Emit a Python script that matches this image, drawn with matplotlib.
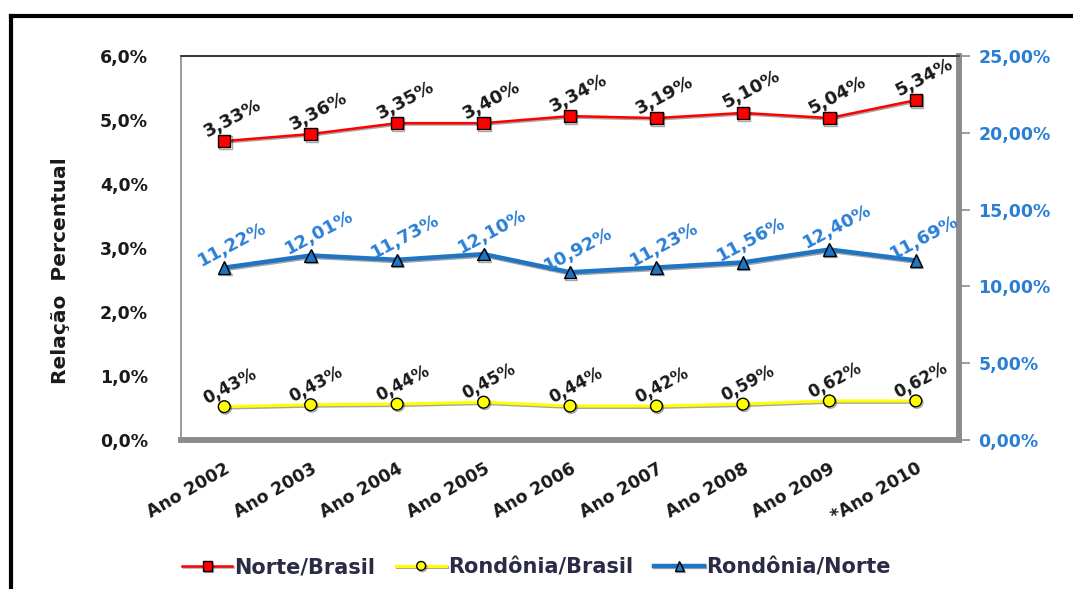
import matplotlib
matplotlib.use("Agg")
import matplotlib.pyplot as plt
import matplotlib.patheffects as pe
from matplotlib.lines import Line2D

# --- dados ---
anos = ["Ano 2002", "Ano 2003", "Ano 2004", "Ano 2005", "Ano 2006",
        "Ano 2007", "Ano 2008", "Ano 2009", "*Ano 2010"]

# posição no eixo esquerdo (como desenhado) e rótulos exibidos
norte_brasil = [4.67, 4.78, 4.95, 4.95, 5.06, 5.03, 5.11, 5.03, 5.31]
norte_brasil_rot = ["3,33%", "3,36%", "3,35%", "3,40%", "3,34%",
                    "3,19%", "5,10%", "5,04%", "5,34%"]

rondonia_brasil = [0.52, 0.55, 0.56, 0.59, 0.53, 0.53, 0.56, 0.61, 0.61]
rondonia_brasil_rot = ["0,43%", "0,43%", "0,44%", "0,45%", "0,44%",
                       "0,42%", "0,59%", "0,62%", "0,62%"]

# eixo direito
rondonia_norte = [11.22, 12.01, 11.73, 12.10, 10.92, 11.23, 11.56, 12.40, 11.69]

left_ticks = [0, 1, 2, 3, 4, 5, 6]
right_ticks = [0, 5, 10, 15, 20, 25]

RED = "#ff0000"
YEL = "#ffff00"
BLUE = "#1f74c4"
LBL_BLUE = "#2a7fd4"
TXT = "#1a1a1a"

plt.rcParams['font.family'] = ['DejaVu Sans']

fig = plt.figure(figsize=(10.73, 5.89), dpi=100)
ax = fig.add_axes([0.1687, 0.253, 0.7251, 0.652])
ax2 = ax.twinx()

x = list(range(len(anos)))
shadow = [pe.SimpleLineShadow(offset=(0.8, -1.0), alpha=0.35, shadow_color="black"), pe.Normal()]

l1, = ax.plot(x, norte_brasil, color=RED, lw=1.8, marker="s", ms=9,
              mfc=RED, mec="black", mew=1, path_effects=shadow, zorder=3)
l2, = ax.plot(x, rondonia_brasil, color=YEL, lw=2.2, marker="o", ms=8.5,
              mfc=YEL, mec="black", mew=1, path_effects=shadow, zorder=3)
l3, = ax2.plot(x, rondonia_norte, color=BLUE, lw=3.2, marker="^", ms=9,
               mfc=BLUE, mec="black", mew=1, path_effects=shadow, zorder=3)

lbl_kw = dict(textcoords="offset points", ha="center", va="bottom",
              rotation=28, rotation_mode="anchor", fontweight="bold")
for xi, yi, t in zip(x, norte_brasil, norte_brasil_rot):
    ax.annotate(t, (xi, yi), xytext=(9, 11), fontsize=13, color=TXT, **lbl_kw)
for xi, yi, t in zip(x, rondonia_brasil, rondonia_brasil_rot):
    ax.annotate(t, (xi, yi), xytext=(7, 9), fontsize=12, color=TXT, **lbl_kw)
for xi, yi in zip(x, rondonia_norte):
    ax2.annotate(f"{yi:.2f}%".replace(".", ","), (xi, yi), xytext=(9, 11),
                 fontsize=13, color=LBL_BLUE, **lbl_kw)

ax.set_xlim(-0.5, len(anos) - 0.5)
ax.set_ylim(0, 6)
ax2.set_ylim(0, 25)

ax.set_yticks(left_ticks)
ax.set_yticklabels([f"{v:.1f}%".replace(".", ",") for v in left_ticks],
                   fontsize=12.5, fontweight="bold", color=TXT)
ax.tick_params(axis="y", length=0, pad=24)

ax2.set_yticks(right_ticks)
ax2.set_yticklabels([f"{v:.2f}%".replace(".", ",") for v in right_ticks],
                    fontsize=12.5, fontweight="bold", color=LBL_BLUE)
ax2.tick_params(axis="y", length=8, width=1.2, color="#8c8c8c", pad=6)

ax.set_xticks(x)
ax.set_xticklabels(anos, rotation=30, ha="right", va="top",
                   rotation_mode="anchor", fontsize=12.5, fontweight="bold",
                   color=TXT)
ax.tick_params(axis="x", length=0, pad=14)

ax.set_ylabel("Relação  Percentual", fontsize=14.5, fontweight="bold",
              color=TXT)
ax.yaxis.set_label_coords(-0.143, 0.44)

# moldura da área de plotagem
for a in (ax, ax2):
    a.spines["top"].set_color("#333333")
    a.spines["top"].set_linewidth(1.2)
    a.spines["left"].set_color("#9a9a9a")
    a.spines["left"].set_linewidth(1.2)
    a.spines["right"].set_color("#8c8c8c")
    a.spines["right"].set_linewidth(4)
    a.spines["bottom"].set_color("#8c8c8c")
    a.spines["bottom"].set_linewidth(4)

# legenda
handles = [l1, l2, l3]
leg = fig.legend(handles, ["Norte/Brasil", "Rondônia/Brasil", "Rondônia/Norte"],
                 loc="center", bbox_to_anchor=(0.5, 0.037), ncol=3,
                 frameon=False, handlelength=2.4, handletextpad=0.1,
                 columnspacing=1.0, markerscale=0.75,
                 prop={"size": 15, "weight": "bold"})
for t in leg.get_texts():
    t.set_color("#2b2b45")

# borda externa (recortada à direita e embaixo)
fig.add_artist(Line2D([11 / 1073, 11 / 1073], [1 - 16 / 589, 0],
                      transform=fig.transFigure, color="black", lw=3))
fig.add_artist(Line2D([11 / 1073, 1], [1 - 16 / 589, 1 - 16 / 589],
                      transform=fig.transFigure, color="black", lw=3))

fig.savefig("out.png", dpi=100)
